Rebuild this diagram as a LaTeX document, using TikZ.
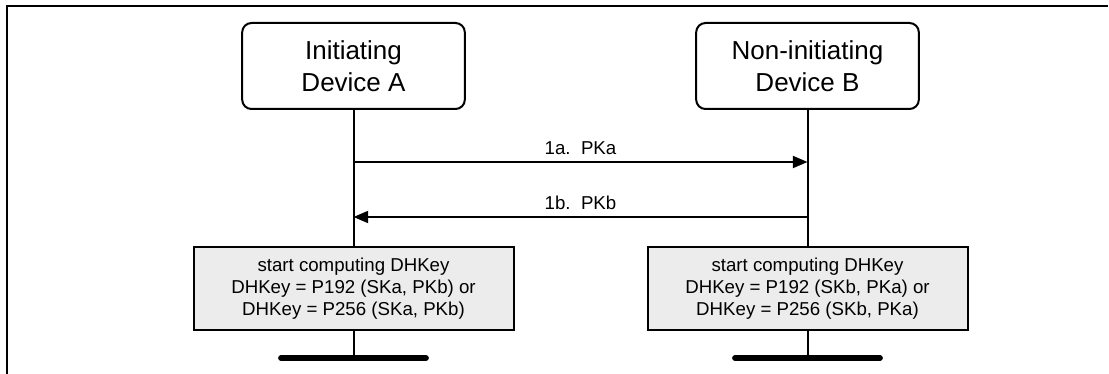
\documentclass[tikz,border=0pt]{standalone}
\usepackage{fontspec}
\setmainfont{Liberation Sans}
\usepackage{tikz}
\usetikzlibrary{arrows.meta,positioning}
\definecolor{calcgray}{RGB}{236,236,236}

\begin{document}
\begin{tikzpicture}[x=0.75pt, y=-0.75pt,
    device/.style={draw, line width=1.5pt, rounded corners=7pt, align=center,
        minimum width=167pt, minimum height=64.5pt, inner sep=0pt,
        font=\fontsize{19.5}{24}\selectfont},
    calcbox/.style={draw, line width=1.5pt, fill=calcgray, align=center,
        minimum width=240pt, minimum height=62pt, inner sep=0pt,
        font=\fontsize{14}{16.5}\selectfont},
    lifeline/.style={line width=1.5pt},
    msg/.style={line width=1.5pt, -{Triangle[length=11pt, width=9pt]}},
    msglabel/.style={above, inner sep=4.5pt, font=\fontsize{14}{16.5}\selectfont},
    endbar/.style={line width=4.3pt, line cap=round}]
    \useasboundingbox (0,0) rectangle (1109,374);
    % frame
    \draw[line width=1.5pt] (7,374) -- (7,6) -- (1108,6);
    % devices
    \node[device] (devA) at (353.5,66) {Initiating\\Device A};
    \node[device] (devB) at (807.5,66) {Non-initiating\\Device B};
    % DHKey computation
    \node[calcbox] (calcA) at (353.5,288.5)
        {start computing DHKey\\DHKey = P192 (SKa, PKb) or\\DHKey = P256 (SKa, PKb)};
    \node[calcbox] (calcB) at (807.5,288.5)
        {start computing DHKey\\DHKey = P192 (SKb, PKa) or\\DHKey = P256 (SKb, PKa)};
    % end bars
    \coordinate (endA) at (353.5,358);
    \coordinate (endB) at (807.5,358);
    \draw[endbar] (281,358) -- (426,358);
    \draw[endbar] (735,358) -- (880,358);
    % lifelines
    \draw[lifeline] (devA.south) -- (calcA.north);
    \draw[lifeline] (calcA.south) -- (endA);
    \draw[lifeline] (devB.south) -- (calcB.north);
    \draw[lifeline] (calcB.south) -- (endB);
    % messages
    \coordinate (a1) at (353.5,162);
    \coordinate (b1) at (807.5,162);
    \coordinate (a2) at (353.5,217);
    \coordinate (b2) at (807.5,217);
    \draw[msg] (a1) -- node[msglabel] {1a.\ \ PKa} (b1);
    \draw[msg] (b2) -- node[msglabel] {1b.\ \ PKb} (a2);
\end{tikzpicture}
\end{document}
